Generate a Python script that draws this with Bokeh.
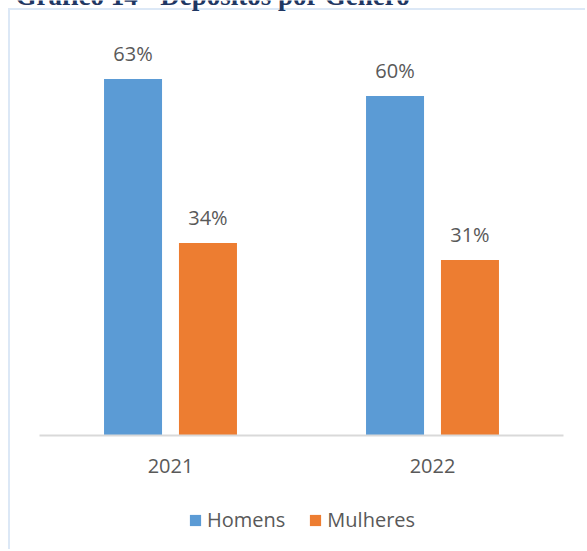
from bokeh.plotting import figure
from bokeh.models import (ColumnDataSource, LabelSet, Legend, LegendItem, Label,
                          LinearAxis, FixedTicker, Range1d)
from bokeh.transform import dodge
from bokeh.core.properties import value
from bokeh.embed import file_html
from bokeh.resources import INLINE

title_text = "Gráfico 14 - Depósitos por Género"
years = ["2021", "2022"]
homens = [63, 60]
mulheres = [34, 31]
series_names = ["Homens", "Mulheres"]

FONT = "Open Sans"
GRAY = "#595959"
BLUE = "#5b9bd5"
ORANGE = "#ed7d31"
BOX = "#dce8f6"

W, H = 585, 549
PX_PER_CAT = 262.0      # pixel width of one category slot
PX_PER_PCT = 5.66       # pixels per percentage point
LEFT, BASE = 39, 435    # plot-area left edge and baseline (screen px)

xpos = [i + 1 for i in range(len(years))]
src = ColumnDataSource(dict(
    x=xpos, year=years,
    homens=homens, mulheres=mulheres,
    homens_lbl=[f"{v}%" for v in homens],
    mulheres_lbl=[f"{v}%" for v in mulheres],
))

p = figure(
    x_range=Range1d(0.5 - LEFT / PX_PER_CAT, 0.5 + (W - LEFT) / PX_PER_CAT),
    y_range=Range1d(-(H - BASE) / PX_PER_PCT, BASE / PX_PER_PCT),
    width=W, height=H,
    min_border=0, min_border_left=0, min_border_right=0, min_border_top=0, min_border_bottom=0,
    x_axis_location=None, y_axis_location=None,
    output_backend="svg", toolbar_location=None,
    border_fill_color=None, background_fill_color=None, outline_line_color=None,
    styles={"background": (f"linear-gradient({BOX},{BOX}) 8px 8px / 2px 100% no-repeat, "
                           f"linear-gradient({BOX},{BOX}) 8px 8px / 100% 2px no-repeat")},
)
p.grid.visible = False

off = 0.143
bw = 0.2214
r1 = p.vbar(x=dodge("x", -off), top="homens", width=bw, source=src,
            fill_color=BLUE, line_color=None)
r2 = p.vbar(x=dodge("x", off), top="mulheres", width=bw, source=src,
            fill_color=ORANGE, line_color=None)

for col, lbl, o in (("homens", "homens_lbl", -off), ("mulheres", "mulheres_lbl", off)):
    p.add_layout(LabelSet(x=dodge("x", o), y=col, text=lbl, source=src,
                          y_offset=18, text_align="center", text_baseline="alphabetic",
                          text_font=value(FONT), text_font_size=value("20px"), text_color=GRAY))

ax = LinearAxis(
    fixed_location=0,
    bounds=(0.5, len(years) + 0.5),
    ticker=FixedTicker(ticks=xpos),
    major_label_overrides={x: y for x, y in zip(xpos, years)},
    axis_line_color="#d9d9d9", axis_line_width=2,
    major_tick_line_color=None, minor_tick_line_color=None,
    major_label_text_font=FONT, major_label_text_font_size="20px",
    major_label_text_color=GRAY, major_label_standoff=17,
)
p.add_layout(ax, "below")

# title of the page, cut off at the top edge as in the reference
p.add_layout(Label(x=15, y=H + 5, x_units="screen", y_units="screen", text=title_text,
                   text_font="Liberation Serif", text_font_style="bold", text_font_size="27px",
                   text_color="#1f3763", text_align="left", text_baseline="alphabetic"))

legend = Legend(
    items=[LegendItem(label=series_names[0], renderers=[r1]),
           LegendItem(label=series_names[1], renderers=[r2])],
    orientation="horizontal", location=(188, H - 533),
    label_text_font=FONT, label_text_font_size="20px", label_text_color=GRAY,
    glyph_width=14, glyph_height=14, label_standoff=5, spacing=23,
    border_line_color=None, background_fill_color=None,
    margin=0, padding=0,
)
p.add_layout(legend, "center")

open("out.html", "w").write(file_html(p, INLINE))
